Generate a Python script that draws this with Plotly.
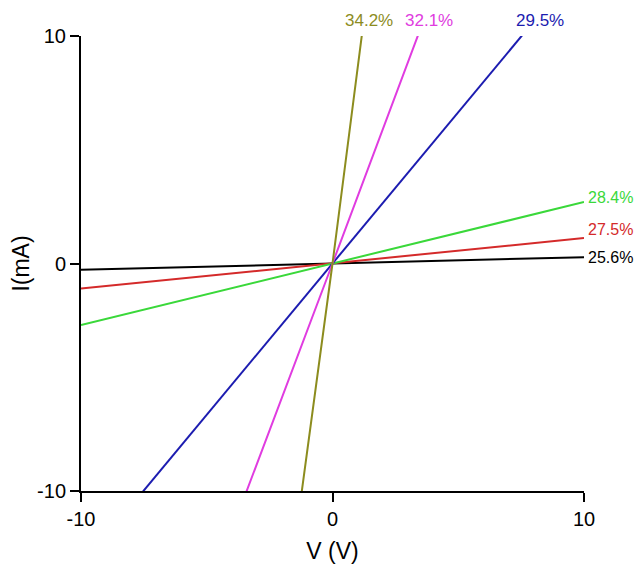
import plotly.graph_objects as go

# Data
voltage = [-10, 0, 10]
series_names = ["25.6%", "27.5%", "28.4%", "29.5%", "32.1%", "34.2%"]
i_256 = [-0.28, 0.0, 0.28]
i_275 = [-1.1, 0.0, 1.12]
i_284 = [-2.7, 0.0, 2.7]
i_295 = [-13.3, 0.0, 13.3]
i_321 = [-29.3, 0.0, 29.5]
i_342 = [-82.0, 0.0, 86.0]
currents = [i_256, i_275, i_284, i_295, i_321, i_342]
colors = ["#000000", "#d42a2a", "#3ad83a", "#1c1cb0", "#e03ce0", "#8c8c1e"]

x_ticks = [-10, 0, 10]
y_ticks = [-10, 0, 10]

fig = go.Figure()
for name, cur, col in zip(series_names, currents, colors):
    fig.add_trace(go.Scatter(x=voltage, y=cur, mode="lines", name=name,
                             line=dict(color=col, width=2), showlegend=False))

font_family = "Liberation Sans, Arial, sans-serif"

# top labels (x in data, y above plot)
top_labels = [("34.2%", 1.47, colors[5]), ("32.1%", 3.82, colors[4]), ("29.5%", 8.27, colors[3])]
for txt, xv, col in top_labels:
    fig.add_annotation(x=xv, xref="x", y=1.035, yref="paper", text=txt, showarrow=False,
                       font=dict(color=col, size=17, family=font_family),
                       xanchor="center", yanchor="middle")
# right labels
right_labels = [("28.4%", 2.9, colors[2]), ("27.5%", 1.5, colors[1]), ("25.6%", 0.25, colors[0])]
for txt, yv, col in right_labels:
    fig.add_annotation(x=1.0, xref="paper", y=yv, yref="y", text=txt, showarrow=False,
                       xshift=2,
                       font=dict(color=col, size=16, family=font_family),
                       xanchor="left", yanchor="middle")

axis_common = dict(showgrid=False, zeroline=False, showline=True, linecolor="black",
                   linewidth=2, ticks="outside", ticklen=9, tickwidth=2, tickcolor="black",
                   tickfont=dict(size=20, color="black", family=font_family),
                   mirror=False, automargin=False)

fig.update_layout(
    width=634, height=561,
    margin=dict(l=73, r=58, t=28, b=78),
    paper_bgcolor="white", plot_bgcolor="white",
    font=dict(family=font_family, color="black"),
    xaxis=dict(range=[-10, 10], tickvals=x_ticks, ticktext=[str(v) for v in x_ticks],
               title=dict(text="V (V)", font=dict(size=23), standoff=14), **axis_common),
    yaxis=dict(range=[-10, 10], tickvals=y_ticks, ticktext=[str(v) for v in y_ticks],
               title=dict(text="I(mA)", font=dict(size=23), standoff=12), **axis_common),
)

fig.write_html("out.html")
